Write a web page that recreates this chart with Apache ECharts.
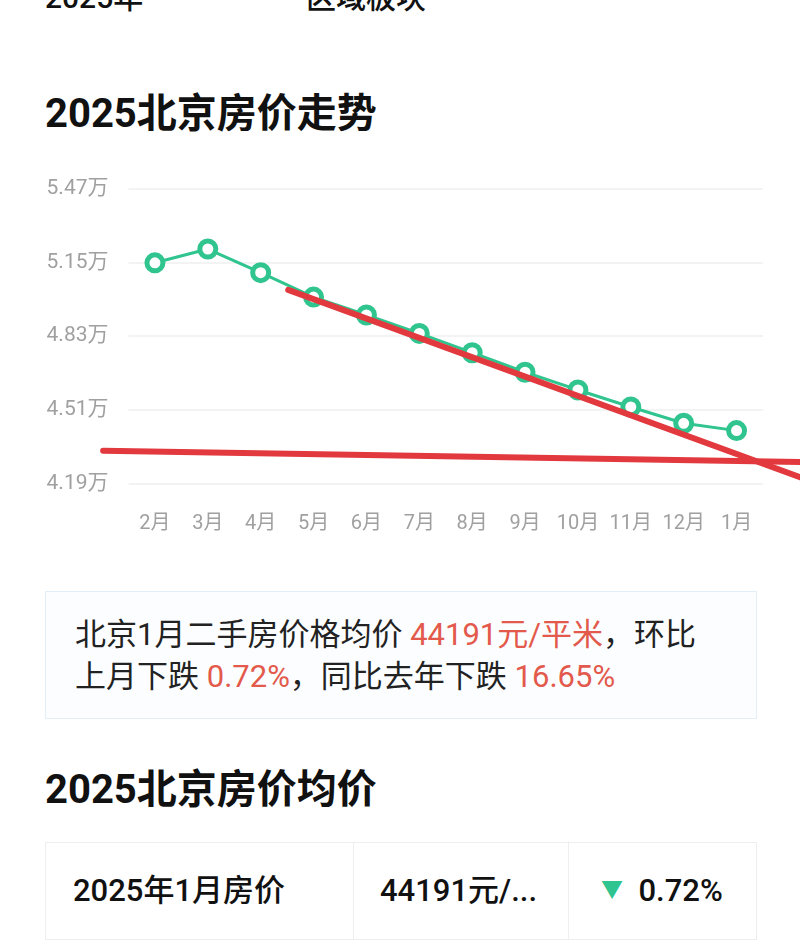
<!DOCTYPE html>
<html><head><meta charset="utf-8">
<script src="https://cdn.jsdelivr.net/npm/echarts@6/dist/echarts.min.js"></script>
<style>
html,body{margin:0;padding:0;background:#fff;width:800px;height:944px;overflow:hidden;position:relative;font-family:Roboto,"Noto Sans CJK SC",sans-serif;color:#111;}
.abs{position:absolute;white-space:nowrap;}
.h1{font-size:40px;font-weight:bold;color:#111;}
.red{color:#e3594b;}
#chart{position:absolute;left:0;top:150px;width:800px;height:400px;}
.box{position:absolute;left:45px;top:591px;width:712px;height:128px;border:1px solid #e3eef6;background:#fbfdff;box-sizing:border-box;}
.boxtxt{position:absolute;left:29px;top:22px;font-size:31px;line-height:42px;color:#222;}
.cell{position:absolute;top:842px;height:98px;border:1px solid #eeeeee;box-sizing:border-box;font-size:31px;font-weight:500;line-height:96px;color:#111;}
</style></head>
<body>
<div class="abs" style="left:45px;top:-27px;font-size:30px;font-weight:500;">2025年</div>
<div class="abs" style="left:306px;top:-27px;font-size:30px;font-weight:500;">区域板块</div>
<div class="abs h1" style="left:45px;top:81px;">2025北京房价走势</div>
<div id="chart"></div>
<div class="box"><div class="boxtxt">北京1月二手房价格均价 <span class="red">44191元/平米</span>，环比<br>上月下跌 <span class="red">0.72%</span>，同比去年下跌 <span class="red">16.65%</span></div></div>
<div class="abs h1" style="left:45px;top:757px;">2025北京房价均价</div>
<div class="cell" style="left:45px;width:309px;padding-left:27px;">2025年1月房价</div>
<div class="cell" style="left:353px;width:216px;padding-left:27px;border-left:none;">44191元/...</div>
<div class="cell" style="left:568px;width:189px;padding-left:33px;border-left:none;"><span style="color:#2fc490;font-size:22px;position:relative;top:-4px;">▼</span>&nbsp; 0.72%</div>
<script>
const months = ['2月','3月','4月','5月','6月','7月','8月','9月','10月','11月','12月','1月'];
const prices = [5.149, 5.209, 5.106, 5.000, 4.922, 4.842, 4.758, 4.673, 4.596, 4.522, 4.4511, 4.4191];
const yMin = 4.19, yMax = 5.47, yStep = 0.32;
// hand-drawn red annotation strokes, in (month index, price) units
const redStrokeFlat = [[-0.98, 4.332], [12.2, 4.2825]];
const redStrokeTrend = [[2.52, 5.031], [12.2, 4.217]];

const gridLeft = 128.5, gridRight = 37, W = 800;
const band = (W - gridLeft - gridRight) / months.length;
const idx0 = gridLeft + band / 2;
const overlayMin = -idx0 / band, overlayMax = (W - idx0) / band;

const chart = echarts.init(document.getElementById('chart'));
chart.setOption({
  animation:false,
  grid:[{left:gridLeft, right:gridRight, top:39, bottom:66.7},
        {left:0, right:0, top:39, bottom:66.7}],
  xAxis:[{
    type:'category', data:months, boundaryGap:true, gridIndex:0,
    axisLine:{show:false}, axisTick:{show:false},
    axisLabel:{interval:0, color:'#a0a0a0', fontSize:20, margin:31, fontFamily:'Roboto, "Noto Sans CJK SC"'}
  },{
    type:'value', gridIndex:1, min:overlayMin, max:overlayMax, show:false
  }],
  yAxis:[{
    type:'value', gridIndex:0, min:yMin, max:yMax, interval:yStep,
    axisLine:{show:false}, axisTick:{show:false},
    splitLine:{lineStyle:{color:'#f3f3f3', width:2}},
    axisLabel:{color:'#a0a0a0', fontSize:21, margin:20, fontFamily:'Roboto, "Noto Sans CJK SC"',
      formatter:v=>v.toFixed(2)+'万'}
  },{
    type:'value', gridIndex:1, min:yMin, max:yMax, show:false
  }],
  series:[{
    type:'line', data:prices, xAxisIndex:0, yAxisIndex:0,
    symbol:'circle', symbolSize:16,
    lineStyle:{color:'#30c48e', width:3},
    itemStyle:{color:'#fff', borderColor:'#30c48e', borderWidth:5},
    z:2
  },{
    type:'line', data:redStrokeFlat, xAxisIndex:1, yAxisIndex:1, clip:false, symbol:'none',
    lineStyle:{color:'#e2393f', width:6, cap:'round'}, z:5
  },{
    type:'line', data:redStrokeTrend, xAxisIndex:1, yAxisIndex:1, clip:false, symbol:'none',
    lineStyle:{color:'#e2393f', width:6, cap:'round'}, z:5
  }]
});
</script>
</body></html>
